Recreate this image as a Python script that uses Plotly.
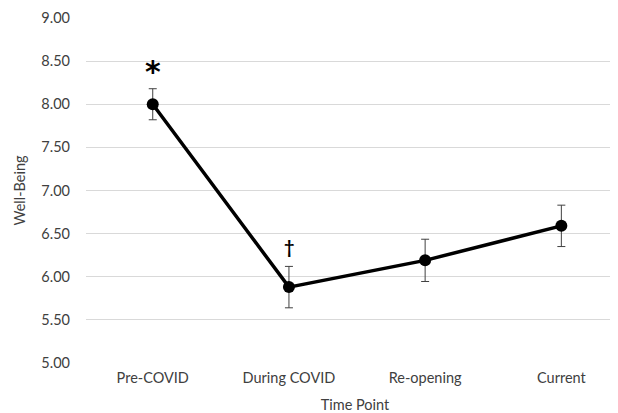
import plotly.graph_objects as go

categories = ["Pre-COVID", "During COVID", "Re-opening", "Current"]
well_being = [8.00, 5.88, 6.19, 6.59]
error = [0.18, 0.24, 0.245, 0.24]
markers = ["*", "†", "", ""]
y_ticks = [5.0, 5.5, 6.0, 6.5, 7.0, 7.5, 8.0, 8.5, 9.0]

font = "Lato, Open Sans, sans-serif"

fig = go.Figure()
fig.add_trace(go.Scatter(
    x=categories, y=well_being,
    mode="lines+markers",
    line=dict(color="black", width=3.5),
    marker=dict(color="black", size=12),
    error_y=dict(type="data", array=error, visible=True,
                 color="#404040", thickness=1, width=4),
    showlegend=False,
))

for c, v, e, m in zip(categories, well_being, error, markers):
    if m:
        fig.add_annotation(x=c, y=v + e, text="<b>" + m + "</b>", showarrow=False,
                           yanchor="bottom",
                           yshift=-2 if m == "*" else 6,
                           font=dict(size=30 if m == "*" else 18, color="#000000",
                                     family="DejaVu Sans, sans-serif" if m == "*" else font))

fig.update_layout(
    width=616, height=405,
    margin=dict(l=78, r=0, t=10, b=50),
    paper_bgcolor="white", plot_bgcolor="white",
    font=dict(family=font, size=14.5, color="#404040"),
    xaxis=dict(type="category", range=[-0.49, 3.46], showgrid=False,
               showline=False, zeroline=False, ticks="",
               ticklabelstandoff=4,
               title=dict(text="Time Point", standoff=16, font=dict(size=14.5))),
    yaxis=dict(range=[5, 9], tickvals=y_ticks, tickformat=".2f",
               showgrid=True, gridcolor="#d9d9d9", gridwidth=1,
               zeroline=False, showline=False, ticks="",
               ticklabelstandoff=15,
               title=dict(text="Well-Being", standoff=12, font=dict(size=14.5))),
)

fig.write_html("out.html")
